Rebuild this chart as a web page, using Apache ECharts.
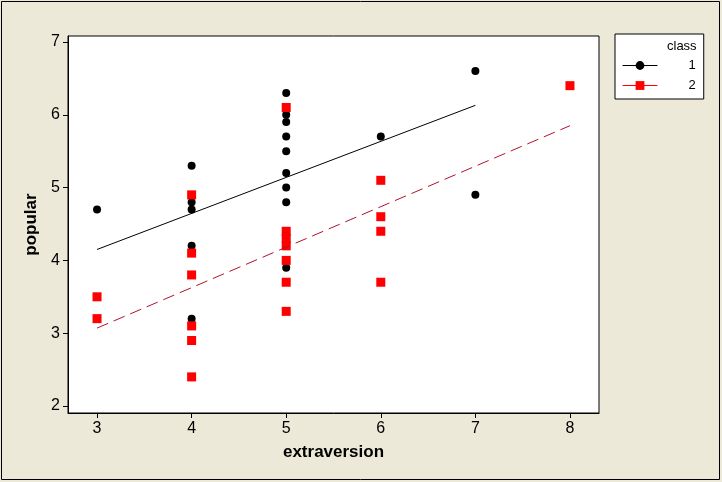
<!DOCTYPE html>
<html>
<head>
<meta charset="utf-8">
<script src="https://cdn.jsdelivr.net/npm/echarts@6/dist/echarts.min.js"></script>
<style>
html,body{margin:0;padding:0;background:#ECE9D8;}
#c{width:722px;height:482px;}
</style>
</head>
<body>
<div id="c"></div>
<script>
// class 1 points (extraversion, popular)
const class1X = [3, 4, 4, 4, 4, 4, 5, 5, 5, 5, 5, 5, 5, 5, 5, 6, 7, 7];
const class1Y = [4.7, 5.3, 4.8, 4.7, 4.2, 3.2, 6.3, 6.0, 5.9, 5.7, 5.5, 5.2, 5.0, 4.8, 3.9, 5.7, 6.6, 4.9];
// class 2 points
const class2X = [3, 3, 4, 4, 4, 4, 4, 4, 5, 5, 5, 5, 5, 5, 5, 6, 6, 6, 6, 8];
const class2Y = [3.5, 3.2, 4.9, 4.1, 3.8, 3.1, 2.9, 2.4, 6.1, 4.4, 4.3, 4.2, 4.0, 3.7, 3.3, 5.1, 4.6, 4.4, 3.7, 6.4];
// fitted regression lines (end points)
const fit1X = [3, 7];
const fit1Y = [4.15, 6.13];
const fit2X = [3, 8];
const fit2Y = [3.07, 5.85];
// tick labels
const xTicks = [3, 4, 5, 6, 7, 8];
const yTicks = [2, 3, 4, 5, 6, 7];

const zip = (xs, ys) => xs.map((x, i) => [x, ys[i]]);
const tickFont = {fontFamily: 'Liberation Sans', fontSize: 16, color: '#000'};

const chart = echarts.init(document.getElementById('c'), null, {renderer: 'canvas'});
chart.setOption({
  animation: false,
  backgroundColor: '#ECE9D8',
  grid: {left: 68, top: 36, right: 123, bottom: 69, show: true, backgroundColor: '#fff', borderColor: '#000', borderWidth: 1},
  xAxis: {
    type: 'value', min: 2.693, max: 8.307,
    name: 'extraversion', nameLocation: 'middle', nameGap: 31,
    nameTextStyle: {fontFamily: 'Liberation Sans', fontWeight: 'bold', fontSize: 17, color: '#000'},
    axisLine: {show: true, lineStyle: {color: '#000', width: 1}},
    axisTick: {show: true, length: 5, lineStyle: {color: '#000'}, customValues: xTicks},
    axisLabel: Object.assign({margin: 8, customValues: xTicks}, tickFont),
    splitLine: {show: false}
  },
  yAxis: {
    type: 'value', min: 1.904, max: 7.082,
    name: 'popular', nameLocation: 'middle', nameGap: 27,
    nameTextStyle: {fontFamily: 'Liberation Sans', fontWeight: 'bold', fontSize: 17, color: '#000'},
    axisLine: {show: true, lineStyle: {color: '#000', width: 1}},
    axisTick: {show: true, length: 5, lineStyle: {color: '#000'}, customValues: yTicks},
    axisLabel: Object.assign({margin: 8, customValues: yTicks}, tickFont),
    splitLine: {show: false}
  },
  legend: {
    orient: 'vertical', left: 615, top: 34,
    padding: [25, 8, 7, 7],
    itemWidth: 35, itemHeight: 11, itemGap: 7,
    backgroundColor: '#fff', borderColor: '#000', borderWidth: 1,
    textStyle: {fontFamily: 'Liberation Sans', fontSize: 13, color: '#000', padding: [0, 0, 0, 26]},
    data: [
      {name: '1', itemStyle: {color: '#000', opacity: 1}, lineStyle: {color: '#000', type: 'solid', width: 1}},
      {name: '2', itemStyle: {color: '#FF0000', opacity: 1}, lineStyle: {color: '#FF0000', type: 'solid', width: 1}}
    ]
  },
  graphic: [
    {type: 'text', left: 667, top: 40, z: 100, style: {text: 'class', font: '13px "Liberation Sans"', fill: '#000'}},
    {type: 'rect', shape: {x: 1.5, y: 1.5, width: 718, height: 478}, style: {fill: 'none', stroke: '#000', lineWidth: 1}, silent: true}
  ],
  series: [
    {name: '1', type: 'line', data: zip(fit1X, fit1Y), symbol: 'circle', symbolSize: 8, showSymbol: false,
     lineStyle: {color: '#000', width: 1}, itemStyle: {color: '#000'}, z: 3},
    {name: '2', type: 'line', data: zip(fit2X, fit2Y), symbol: 'rect', symbolSize: 9, showSymbol: false,
     lineStyle: {color: '#B0132E', width: 1, type: [12, 6]}, itemStyle: {color: '#FF0000'}, z: 3},
    {name: '1', type: 'scatter', data: zip(class1X, class1Y), symbol: 'circle', symbolSize: 8,
     itemStyle: {color: '#000', opacity: 1}, z: 2},
    {name: '2', type: 'scatter', data: zip(class2X, class2Y), symbol: 'rect', symbolSize: 9,
     itemStyle: {color: '#FF0000', opacity: 1}, z: 2}
  ]
});
</script>
</body>
</html>
